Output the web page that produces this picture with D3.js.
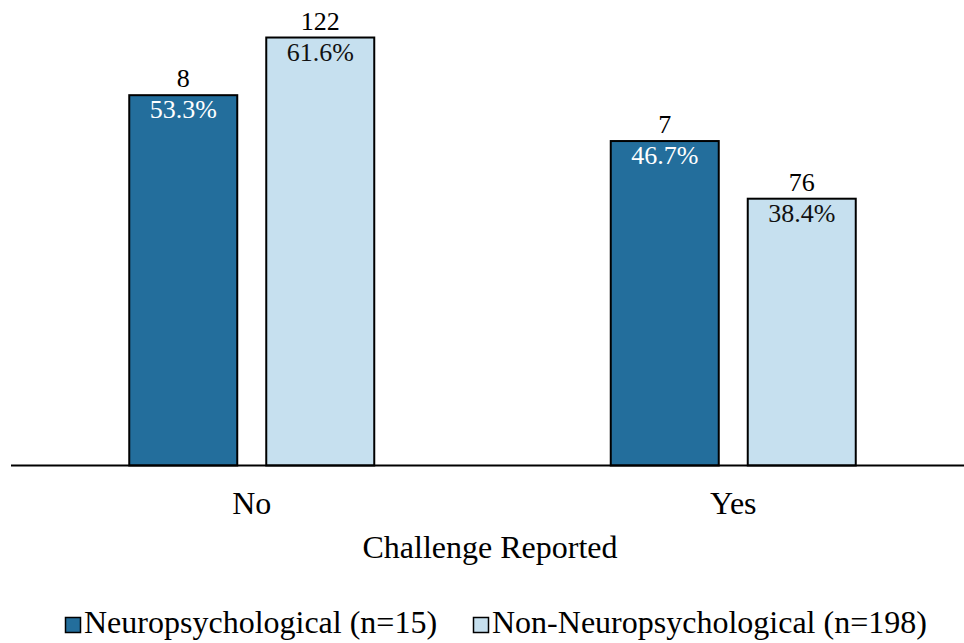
<!DOCTYPE html>
<html>
<head>
<meta charset="utf-8">
<script src="https://cdn.jsdelivr.net/npm/d3@7"></script>
<style>
  html, body { margin: 0; padding: 0; background: #fff; }
</style>
</head>
<body>
<svg id="chart" width="964" height="643"></svg>
<script>
// Challenge reported, by group
const categories = ["No", "Yes"];
const seriesNames = ["Neuropsychological (n=15)", "Non-Neuropsychological (n=198)"];
const seriesKeys = ["neuro", "nonNeuro"];
const neuroCounts = [8, 7];
const neuroPercents = [53.3, 46.7];
const nonNeuroCounts = [122, 76];
const nonNeuroPercents = [61.6, 38.4];
const colors = ["#236e9c", "#c6e0ef"];
const pctColors = ["#ffffff", "#111111"];

const FONT = "'Liberation Serif', 'Times New Roman', Times, serif";
const LABEL_SIZE = 26;
const AXIS_SIZE = 32;

const rows = categories.map((c, i) => ({
  category: c,
  values: [
    { key: "neuro", count: neuroCounts[i], pct: neuroPercents[i] },
    { key: "nonNeuro", count: nonNeuroCounts[i], pct: nonNeuroPercents[i] }
  ]
}));

const svg = d3.select("#chart").attr("font-family", FONT);
const baseY = 465.5;

const x0 = d3.scaleBand().domain(categories).range([11, 974]).paddingInner(0).paddingOuter(0);
const groupWidth = 245;
const x1 = d3.scaleBand().domain(seriesKeys).range([0, groupWidth]).paddingInner(29 / 137);
const y = d3.scaleLinear().domain([0, 67]).range([baseY, 0]);
const color = d3.scaleOrdinal().domain(seriesKeys).range(colors);
const pctColor = d3.scaleOrdinal().domain(seriesKeys).range(pctColors);

const groups = svg.selectAll("g.group")
  .data(rows)
  .join("g")
  .attr("class", "group")
  .attr("transform", d => `translate(${x0(d.category) + x0.bandwidth() / 2 - groupWidth / 2},0)`);

groups.selectAll("rect")
  .data(d => d.values)
  .join("rect")
  .attr("x", d => x1(d.key))
  .attr("y", d => y(d.pct))
  .attr("width", x1.bandwidth())
  .attr("height", d => y(0) - y(d.pct))
  .attr("fill", d => color(d.key))
  .attr("stroke", "#000")
  .attr("stroke-width", 2);

// count above each bar
groups.selectAll("text.count")
  .data(d => d.values)
  .join("text")
  .attr("class", "count")
  .attr("x", d => x1(d.key) + x1.bandwidth() / 2)
  .attr("y", d => y(d.pct) - 8)
  .attr("text-anchor", "middle")
  .attr("font-size", LABEL_SIZE)
  .attr("fill", "#000")
  .text(d => d.count);

// percentage inside the top of each bar
groups.selectAll("text.pct")
  .data(d => d.values)
  .join("text")
  .attr("class", "pct")
  .attr("x", d => x1(d.key) + x1.bandwidth() / 2)
  .attr("y", d => y(d.pct) + 23)
  .attr("text-anchor", "middle")
  .attr("font-size", LABEL_SIZE)
  .attr("fill", d => pctColor(d.key))
  .text(d => d.pct.toFixed(1) + "%");

// baseline and category labels
const xAxis = d3.axisBottom(x0).tickSize(0).tickPadding(0);
const axisG = svg.append("g").attr("transform", `translate(0,${baseY})`).call(xAxis)
  .attr("font-family", FONT);
axisG.select(".domain").attr("stroke", "#000").attr("stroke-width", 2).attr("d", "M11,0H974");
axisG.selectAll(".tick text")
  .attr("font-size", AXIS_SIZE)
  .attr("fill", "#000")
  .attr("dy", null)
  .attr("y", 48);

svg.append("text")
  .attr("x", 490)
  .attr("y", 558)
  .attr("text-anchor", "middle")
  .attr("font-size", AXIS_SIZE)
  .attr("fill", "#000")
  .text("Challenge Reported");

// legend
const legendX = [65, 473];
const legend = svg.selectAll("g.legend")
  .data(seriesKeys)
  .join("g")
  .attr("class", "legend")
  .attr("transform", (d, i) => `translate(${legendX[i]},617)`);
legend.append("rect")
  .attr("x", 0.5).attr("y", 0.5)
  .attr("width", 15).attr("height", 15)
  .attr("fill", d => color(d))
  .attr("stroke", "#000")
  .attr("stroke-width", 1.5);
legend.append("text")
  .attr("x", 19)
  .attr("y", 16)
  .attr("font-size", AXIS_SIZE)
  .attr("fill", "#000")
  .text((d, i) => seriesNames[i]);
</script>
</body>
</html>
